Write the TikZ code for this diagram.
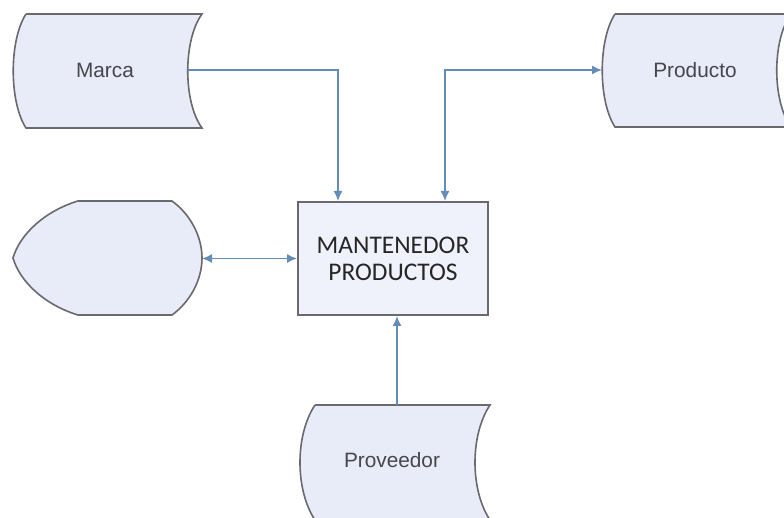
\documentclass[tikz,border=0pt]{standalone}
\usepackage{fontspec}
\setmainfont{Liberation Sans}
\newfontfamily\calibri{Carlito}
\usetikzlibrary{arrows.meta}

\definecolor{shapefill}{RGB}{232,236,248}
\definecolor{shapeline}{RGB}{105,105,110}
\definecolor{flowblue}{RGB}{100,140,185}
\definecolor{labelgray}{RGB}{70,70,75}

\tikzset{
	datashape/.style={fill=shapefill, draw=shapeline, line width=0.8pt},
	flow/.style={draw=flowblue, line width=0.75pt, >={Latex[length=5pt,width=4.5pt]}},
	shapelabel/.style={font=\fontsize{10.4pt}{12pt}\selectfont, text=labelgray}
}

\begin{document}
\begin{tikzpicture}[x=0.5pt,y=-0.5pt]
	
	\useasboundingbox[fill=white] (0,0) rectangle (784,518);
	
	%stored data shapes
	\path[datashape] (26,14) -- (202,14) .. controls (183,40) and (183,102) .. (202,128)
		-- (26,128) .. controls (9,102) and (9,40) .. (26,14);
	\path[datashape] (615,14) -- (791,14) .. controls (772,40) and (772,101) .. (791,127)
		-- (615,127) .. controls (598,101) and (598,40) .. (615,14);
	\path[datashape] (315,405) -- (490,405) .. controls (470,435) and (470,490) .. (490,520)
		-- (315,520) .. controls (295,490) and (295,435) .. (315,405);
	
	%display shape
	\path[datashape] (78,201) -- (172,201) .. controls (190,214) and (202,236) .. (202,258)
		.. controls (202,280) and (190,302) .. (172,315) -- (78,315)
		.. controls (45,305) and (20,282) .. (13,258) .. controls (20,234) and (45,211) .. (78,201);
	
	%labels
	\node[shapelabel] (marca) at (105,70){Marca};
	\node[shapelabel] (producto) at (695,70){Producto};
	\node[shapelabel] (proveedor) at (392,460){Proveedor};
	
	%connection points
	\coordinate (marcaE) at (188,70);
	\coordinate (productoW) at (602,70);
	\coordinate (displayE) at (202,258.5);
	\coordinate (proveedorN) at (397,405);
	
	%main process
	\node[draw=shapeline, fill=shapefill!70!white, line width=1pt, minimum width=95pt, minimum height=56.5pt,
		align=center, text=black!85, font=\calibri\fontsize{12.7pt}{13.6pt}\selectfont]
		(mant) at (393,258.5){MANTENEDOR\\PRODUCTOS};
	
	\draw[flow,->] (marcaE) -| ([xshift=-27.5pt]mant.north);
	\draw[flow,<->] ([xshift=26pt]mant.north) |- (productoW);
	\draw[flow,<->] (displayE) -- (mant.west);
	\draw[flow,->] (proveedorN) -- (proveedorN |- mant.south);
	
\end{tikzpicture}
\end{document}
